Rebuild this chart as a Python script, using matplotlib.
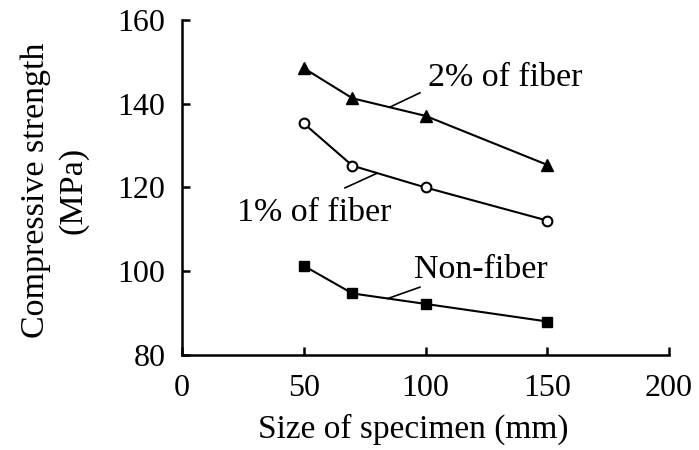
import numpy as np
import matplotlib.pyplot as plt

# values
size_mm = [50, 70, 100, 150]
fiber_2 = [148.5, 141.3, 137.1, 125.4]
fiber_1 = [135.3, 125.2, 120.0, 112.1]
non_fiber = [101.3, 94.7, 92.2, 88.0]

x_ticks = [0, 50, 100, 150, 200]
y_ticks = [80, 100, 120, 140, 160]

plt.rcParams['font.family'] = ['Liberation Serif', 'DejaVu Serif']
plt.rcParams['font.size'] = 23

fig = plt.figure(figsize=(6.99, 4.5), dpi=100)
ax = fig.add_axes([0.2604, 0.2111, 0.6967, 0.7445])

ax.plot(size_mm, fiber_2, color='black', lw=1.5, marker='^', ms=8.5)
ax.plot(size_mm, fiber_1, color='black', lw=1.5, marker='o', ms=7,
        markerfacecolor='white', markeredgewidth=1.5)
ax.plot(size_mm, non_fiber, color='black', lw=1.5, marker='s', ms=7.5)

ax.set_xlim(0, 200)
ax.set_ylim(80, 160)
ax.set_xticks(x_ticks)
ax.set_yticks(y_ticks)

for side in ['top', 'right']:
    ax.spines[side].set_visible(False)
for side in ['left', 'bottom']:
    ax.spines[side].set_linewidth(1.8)

ax.tick_params(axis='both', direction='in', length=6, width=1.8)
ax.tick_params(axis='y', pad=12)
ax.tick_params(axis='x', pad=14)

ax.set_xlabel('Size of specimen (mm)', fontsize=24)
ax.xaxis.set_label_coords(0.474, -0.175)
ax.set_ylabel('Compressive strength\n(MPa)', fontsize=24.5, linespacing=1.25)
ax.yaxis.set_label_coords(-0.193, 0.4925)

# series labels and their short leader lines
ax.text(132.9, 146.1, '2% of fiber', ha='center', va='center', fontsize=24.5)
ax.plot([97.7, 85.4], [142.6, 139.2], color='black', lw=1.2)

ax.text(54.4, 113.9, '1% of fiber', ha='center', va='center', fontsize=24.5)
ax.plot([66.9, 80.1], [119.9, 123.4], color='black', lw=1.2)

ax.text(122.8, 100.3, 'Non-fiber', ha='center', va='center', fontsize=24.5)
ax.plot([97.7, 84.6], [96.2, 93.5], color='black', lw=1.2)

fig.savefig('out.png', dpi=100)
